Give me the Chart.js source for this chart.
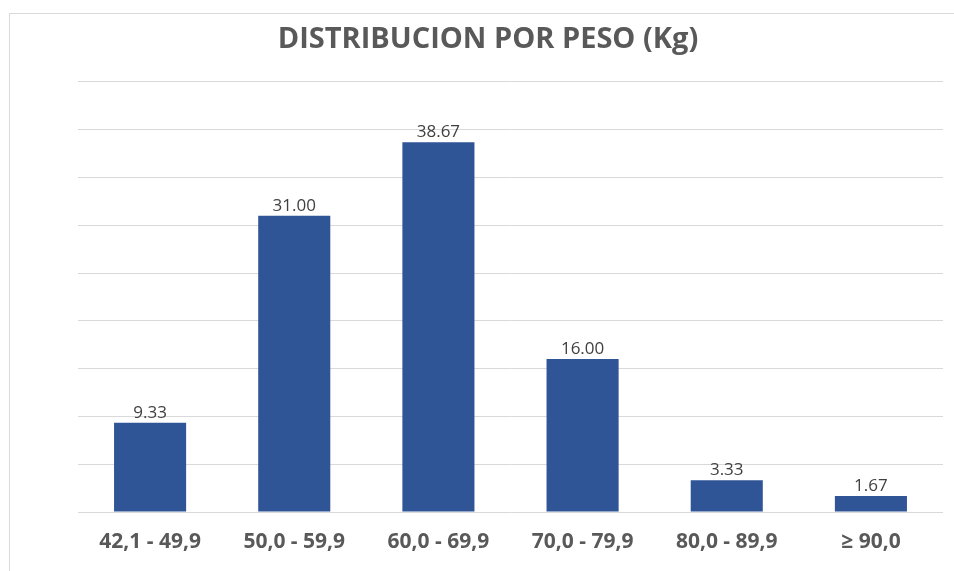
<!DOCTYPE html>
<html>
<head>
<meta charset="utf-8">
<script src="https://cdn.jsdelivr.net/npm/chart.js@4/dist/chart.umd.min.js"></script>
<style>
  html, body { margin: 0; padding: 0; background: #fff; overflow: hidden; width: 954px; height: 571px; }
  #frame { position: absolute; left: 9px; top: 13px; width: 1000px; height: 600px;
           border-top: 1px solid #d9d9d9; border-left: 1px solid #d9d9d9; }
  #wrap { position: absolute; left: 10px; top: 14px; width: 956px; height: 557px; }
</style>
</head>
<body>
<div id="frame"></div>
<div id="wrap"><canvas id="c"></canvas></div>
<script>
const titleText = 'DISTRIBUCION POR PESO (Kg)';
const categories = ['42,1 - 49,9', '50,0 - 59,9', '60,0 - 69,9', '70,0 - 79,9', '80,0 - 89,9', '\u2265 90,0'];
const values = [9.33, 31.00, 38.67, 16.00, 3.33, 1.67];
const yMin = 0, yMax = 45, yStep = 5;

const valueLabels = {
  id: 'valueLabels',
  afterDatasetsDraw(chart) {
    const ctx = chart.ctx;
    const meta = chart.getDatasetMeta(0);
    ctx.save();
    ctx.font = '17px "Open Sans"';
    ctx.fillStyle = '#404040';
    ctx.textAlign = 'center';
    ctx.textBaseline = 'alphabetic';
    meta.data.forEach((bar, i) => {
      ctx.fillText(values[i].toFixed(2), bar.x, bar.y - 5);
    });
    ctx.restore();
  }
};

new Chart(document.getElementById('c'), {
  type: 'bar',
  data: {
    labels: categories,
    datasets: [{
      data: values,
      backgroundColor: '#2F5597',
      borderWidth: 0,
      categoryPercentage: 1,
      barPercentage: 0.5
    }]
  },
  options: {
    responsive: true,
    maintainAspectRatio: false,
    animation: false,
    layout: { padding: 0 },
    plugins: {
      legend: { display: false },
      tooltip: { enabled: false },
      title: {
        display: true,
        text: titleText,
        color: '#595959',
        font: { family: 'Open Sans', size: 29, weight: 'bold', lineHeight: 1.2 },
        padding: { top: 8, bottom: 25 }
      }
    },
    scales: {
      x: {
        grid: { display: false, drawTicks: false, tickLength: 0 },
        border: { display: false },
        ticks: {
          color: '#595959',
          font: { family: 'Open Sans', size: 21, weight: 'bold' },
          padding: 17,
          maxRotation: 0,
          autoSkip: false
        },
        afterFit(scale) { scale.height = 59; }
      },
      y: {
        min: yMin, max: yMax,
        ticks: { display: false, stepSize: yStep },
        grid: { color: '#d9d9d9', lineWidth: 1, drawTicks: false, tickLength: 0 },
        border: { display: false },
        afterFit(scale) { scale.width = 68; }
      },
      y2: {
        position: 'right',
        min: 0, max: 1,
        ticks: { display: false },
        grid: { display: false, drawTicks: false },
        border: { display: false },
        afterFit(scale) { scale.width = 23; }
      }
    }
  },
  plugins: [valueLabels]
});
</script>
</body>
</html>
